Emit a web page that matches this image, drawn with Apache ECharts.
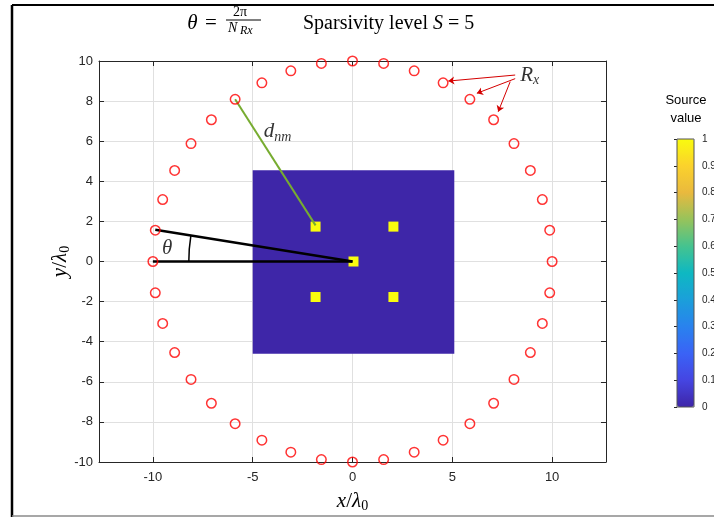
<!DOCTYPE html>
<html>
<head>
<meta charset="utf-8">
<script src="https://cdn.jsdelivr.net/npm/echarts@6/dist/echarts.min.js"></script>
<style>html,body{margin:0;padding:0;background:#fff;}#c{width:714px;height:517px;}</style>
</head>
<body>
<div id="c"></div>
<script>
// Receiver positions (x/λ0, y/λ0)
const rxX = [10, 9.88, 9.51, 8.91, 8.09, 7.07, 5.88, 4.54, 3.09, 1.56, 0, -1.56, -3.09, -4.54, -5.88, -7.07, -8.09, -8.91, -9.51, -9.88,
             -10, -9.88, -9.51, -8.91, -8.09, -7.07, -5.88, -4.54, -3.09, -1.56, 0, 1.56, 3.09, 4.54, 5.88, 7.07, 8.09, 8.91, 9.51, 9.88];
const rxY = [0, 1.56, 3.09, 4.54, 5.88, 7.07, 8.09, 8.91, 9.51, 9.88, 10, 9.88, 9.51, 8.91, 8.09, 7.07, 5.88, 4.54, 3.09, 1.56,
             0, -1.56, -3.09, -4.54, -5.88, -7.07, -8.09, -8.91, -9.51, -9.88, -10, -9.88, -9.51, -8.91, -8.09, -7.07, -5.88, -4.54, -3.09, -1.56];
// Imaging region extent and its background value
const regionX = [-5, 5.1];
const regionY = [-4.6, 4.55];
const regionValue = 0;
// Sources (S = 5)
const sourceX = [-1.85, 2.05, 0.05, -1.85, 2.05];
const sourceY = [1.74, 1.74, 0, -1.77, -1.77];
const sourceValue = [1, 1, 1, 1, 1];
// Annotation geometry
const dnmLine = [[-5.88, 8.09], [-1.85, 1.8]];
const thetaLines = [[[-10, 0], [0, 0]], [[-9.88, 1.58], [0, 0]]];
const thetaArc = [[0, 0, 8.2, 9]]; // centre x, centre y, radius, angle (deg)
const rxArrows = [[[8.15, 9.3], [4.8, 9.0]], [[8.15, 9.12], [6.23, 8.39]], [[7.9, 8.97], [7.3, 7.47]]];
const xTicks = [-10, -5, 0, 5, 10];
const yTicks = [-10, -8, -6, -4, -2, 0, 2, 4, 6, 8, 10];
const cbTicks = [0, 0.1, 0.2, 0.3, 0.4, 0.5, 0.6, 0.7, 0.8, 0.9, 1];

const parula = ['#3e26a8', '#4545e2', '#3a63f6', '#2982ee', '#1b9fda', '#0eb8c2', '#45c38f', '#97c35b', '#e9b93e', '#fbd22c', '#f9fb0e'];

const half = 0.25;
const heatData = [[regionX[0], regionX[1], regionY[0], regionY[1], regionValue]];
sourceX.forEach((x, i) => heatData.push([x - half, x + half, sourceY[i] - half, sourceY[i] + half, sourceValue[i]]));

const serif = 'Liberation Serif';
const sans = 'Liberation Sans';
const axisCol = '#262626';
const mathRich = {
  i: {fontFamily: serif, fontStyle: 'italic', fontSize: 21, color: '#000', lineHeight: 24},
  r: {fontFamily: serif, fontSize: 21, color: '#000', lineHeight: 24},
  s: {fontFamily: serif, fontSize: 14, color: '#000', lineHeight: 20, verticalAlign: 'bottom'},
  si: {fontFamily: serif, fontStyle: 'italic', fontSize: 14, color: '#000', lineHeight: 18, verticalAlign: 'bottom'}
};

const chart = echarts.init(document.getElementById('c'), null, {renderer: 'canvas'});
const option = {
  animation: false,
  backgroundColor: '#fff',
  grid: [
    {left: 99, right: 108, top: 61, bottom: 55, show: false, containLabel: false, outerBoundsMode: 'none'},
    {left: 677, top: 139, width: 17, height: 268, show: false, containLabel: false, outerBoundsMode: 'none'}
  ],
  xAxis: [
    {
      type: 'value', gridIndex: 0, min: -12.7, max: 12.7, splitNumber: 5,
      axisLine: {show: true, onZero: false, lineStyle: {color: axisCol, width: 1}},
      axisTick: {show: true, inside: true, length: 5, lineStyle: {color: axisCol}},
      axisLabel: {showMinLabel: false, showMaxLabel: false, color: axisCol, fontFamily: sans, fontSize: 13, margin: 9},
      splitLine: {show: true, lineStyle: {color: '#e0e0e0', width: 1}},
      name: '{i|x}{r|/}{i|λ}{s|0}', nameLocation: 'middle', nameGap: 27, nameMoveOverlap: false,
      nameTextStyle: {rich: mathRich}
    },
    {
      type: 'value', gridIndex: 0, position: 'top', min: -12.7, max: 12.7, splitNumber: 5,
      axisLine: {show: true, onZero: false, lineStyle: {color: axisCol, width: 1}},
      axisTick: {show: true, inside: true, length: 5, lineStyle: {color: axisCol}},
      axisLabel: {show: false}, splitLine: {show: false}
    },
    {type: 'value', gridIndex: 1, min: 0, max: 1, show: false}
  ],
  yAxis: [
    {
      type: 'value', gridIndex: 0, min: -10, max: 10, interval: 2,
      axisLine: {show: true, onZero: false, lineStyle: {color: axisCol, width: 1}},
      axisTick: {show: true, inside: true, length: 5, lineStyle: {color: axisCol}},
      axisLabel: {color: axisCol, fontFamily: sans, fontSize: 13, margin: 6},
      splitLine: {show: true, lineStyle: {color: '#e0e0e0', width: 1}},
      name: '{i|y}{r|/}{i|λ}{s|0}', nameLocation: 'middle', nameGap: 27, nameRotate: 90, nameMoveOverlap: false,
      nameTextStyle: {rich: mathRich}
    },
    {
      type: 'value', gridIndex: 0, position: 'right', min: -10, max: 10, interval: 2,
      axisLine: {show: true, onZero: false, lineStyle: {color: axisCol, width: 1}},
      axisTick: {show: true, inside: true, length: 5, lineStyle: {color: axisCol}},
      axisLabel: {show: false}, splitLine: {show: false}
    },
    {
      type: 'value', gridIndex: 1, position: 'right', min: 0, max: 1, interval: 0.1,
      axisLine: {show: false},
      axisTick: {show: true, inside: true, length: 3, lineStyle: {color: axisCol}},
      axisLabel: {color: axisCol, fontFamily: sans, fontSize: 10, margin: 8},
      splitLine: {show: false}
    }
  ],
  visualMap: {
    type: 'continuous', min: 0, max: 1, dimension: 4, seriesIndex: 0,
    calculable: false, hoverLink: false,
    left: 672, top: 134, itemWidth: 17, itemHeight: 268, padding: 5,
    text: null, showLabel: false,
    inRange: {color: parula}
  },
  graphic: [
    {type: 'line', shape: {x1: 12, y1: 5, x2: 714, y2: 5}, style: {stroke: '#000', lineWidth: 2}},
    {type: 'line', shape: {x1: 12, y1: 5, x2: 12, y2: 517}, style: {stroke: '#000', lineWidth: 2.5}},
    {type: 'line', shape: {x1: 12, y1: 516, x2: 714, y2: 516}, style: {stroke: '#8a8a8a', lineWidth: 1.5}},
    {type: 'text', x: 192.5, y: 23, style: {text: 'θ', fontFamily: serif, fontStyle: 'italic', fontSize: 21, fill: '#000', align: 'center', verticalAlign: 'middle'}},
    {type: 'text', x: 211, y: 23, style: {text: '=', fontFamily: serif, fontSize: 21, fill: '#000', align: 'center', verticalAlign: 'middle'}},
    {type: 'text', x: 240, y: 12.5, style: {text: '2π', fontFamily: serif, fontSize: 14, fill: '#000', align: 'center', verticalAlign: 'middle'}},
    {type: 'line', shape: {x1: 226, y1: 20, x2: 261, y2: 20}, style: {stroke: '#000', lineWidth: 1}},
    {type: 'text', x: 228, y: 28, style: {text: 'N', fontFamily: serif, fontStyle: 'italic', fontSize: 14, fill: '#000', align: 'left', verticalAlign: 'middle'}},
    {type: 'text', x: 240, y: 30.5, style: {text: 'Rx', fontFamily: serif, fontStyle: 'italic', fontSize: 12, fill: '#000', align: 'left', verticalAlign: 'middle'}},
    {type: 'text', x: 303, y: 24, style: {
      text: '{r|Sparsivity level }{i|S}{r| = 5}', align: 'left', verticalAlign: 'middle',
      rich: {r: {fontFamily: serif, fontSize: 20, fill: '#000'}, i: {fontFamily: serif, fontStyle: 'italic', fontSize: 20, fill: '#000'}}
    }},
    {type: 'text', x: 686, y: 100, style: {text: 'Source', fontFamily: sans, fontSize: 13, fill: '#000', align: 'center', verticalAlign: 'middle'}},
    {type: 'text', x: 686, y: 118, style: {text: 'value', fontFamily: sans, fontSize: 13, fill: '#000', align: 'center', verticalAlign: 'middle'}},
    {type: 'rect', z: 100, shape: {x: 677, y: 139, width: 17, height: 268}, style: {fill: null, stroke: '#555', lineWidth: 1}}
  ],
  series: [
    {
      type: 'custom', xAxisIndex: 0, yAxisIndex: 0, data: heatData,
      encode: {x: [0, 1], y: [2, 3]}, clip: true, z: 1,
      renderItem: function (params, api) {
        const p0 = api.coord([api.value(0), api.value(3)]);
        const p1 = api.coord([api.value(1), api.value(2)]);
        return {type: 'rect', shape: {x: p0[0], y: p0[1], width: p1[0] - p0[0], height: p1[1] - p0[1]}, style: {fill: api.visual('color')}};
      }
    },
    {
      type: 'lines', coordinateSystem: 'cartesian2d', xAxisIndex: 0, yAxisIndex: 0, z: 3,
      data: [{coords: dnmLine}], lineStyle: {color: '#77ac30', width: 2, opacity: 1}
    },
    {
      type: 'lines', coordinateSystem: 'cartesian2d', xAxisIndex: 0, yAxisIndex: 0, z: 3,
      data: thetaLines.map(c => ({coords: c})), lineStyle: {color: '#000', width: 2.5, opacity: 1}
    },
    {
      type: 'custom', xAxisIndex: 0, yAxisIndex: 0, data: thetaArc, z: 3,
      renderItem: function (params, api) {
        const c = api.coord([api.value(0), api.value(1)]);
        const r = api.size([api.value(2), 0])[0];
        const a = api.value(3) * Math.PI / 180;
        return {type: 'arc', shape: {cx: c[0], cy: c[1], r: r, startAngle: Math.PI, endAngle: Math.PI + a, clockwise: true},
                style: {stroke: '#000', fill: null, lineWidth: 1.5}};
      }
    },
    {
      type: 'scatter', xAxisIndex: 0, yAxisIndex: 0, z: 4,
      data: rxX.map((x, i) => [x, rxY[i]]),
      symbol: 'circle', symbolSize: 9.5,
      itemStyle: {color: 'rgba(255,255,255,0)', borderColor: '#ff0000', borderWidth: 1.5}
    },
    {
      type: 'lines', coordinateSystem: 'cartesian2d', xAxisIndex: 0, yAxisIndex: 0, z: 4,
      data: rxArrows.map(c => ({coords: c})), symbol: ['none', 'arrow'], symbolSize: 6,
      lineStyle: {color: '#d40000', width: 1, opacity: 1}
    },
    {
      type: 'scatter', xAxisIndex: 0, yAxisIndex: 0, z: 5, symbolSize: 0, silent: true,
      data: [
        {value: [-4.45, 6.46], label: {formatter: '{i|d}{si|nm}'}},
        {value: [-9.55, 0.67], label: {formatter: '{i|θ}'}},
        {value: [8.4, 9.3], label: {formatter: '{i|R}{si|x}'}}
      ],
      label: {show: true, position: 'inside', align: 'left', verticalAlign: 'middle', rich: mathRich}
    }
  ]
};
chart.setOption(option);
</script>
</body>
</html>
